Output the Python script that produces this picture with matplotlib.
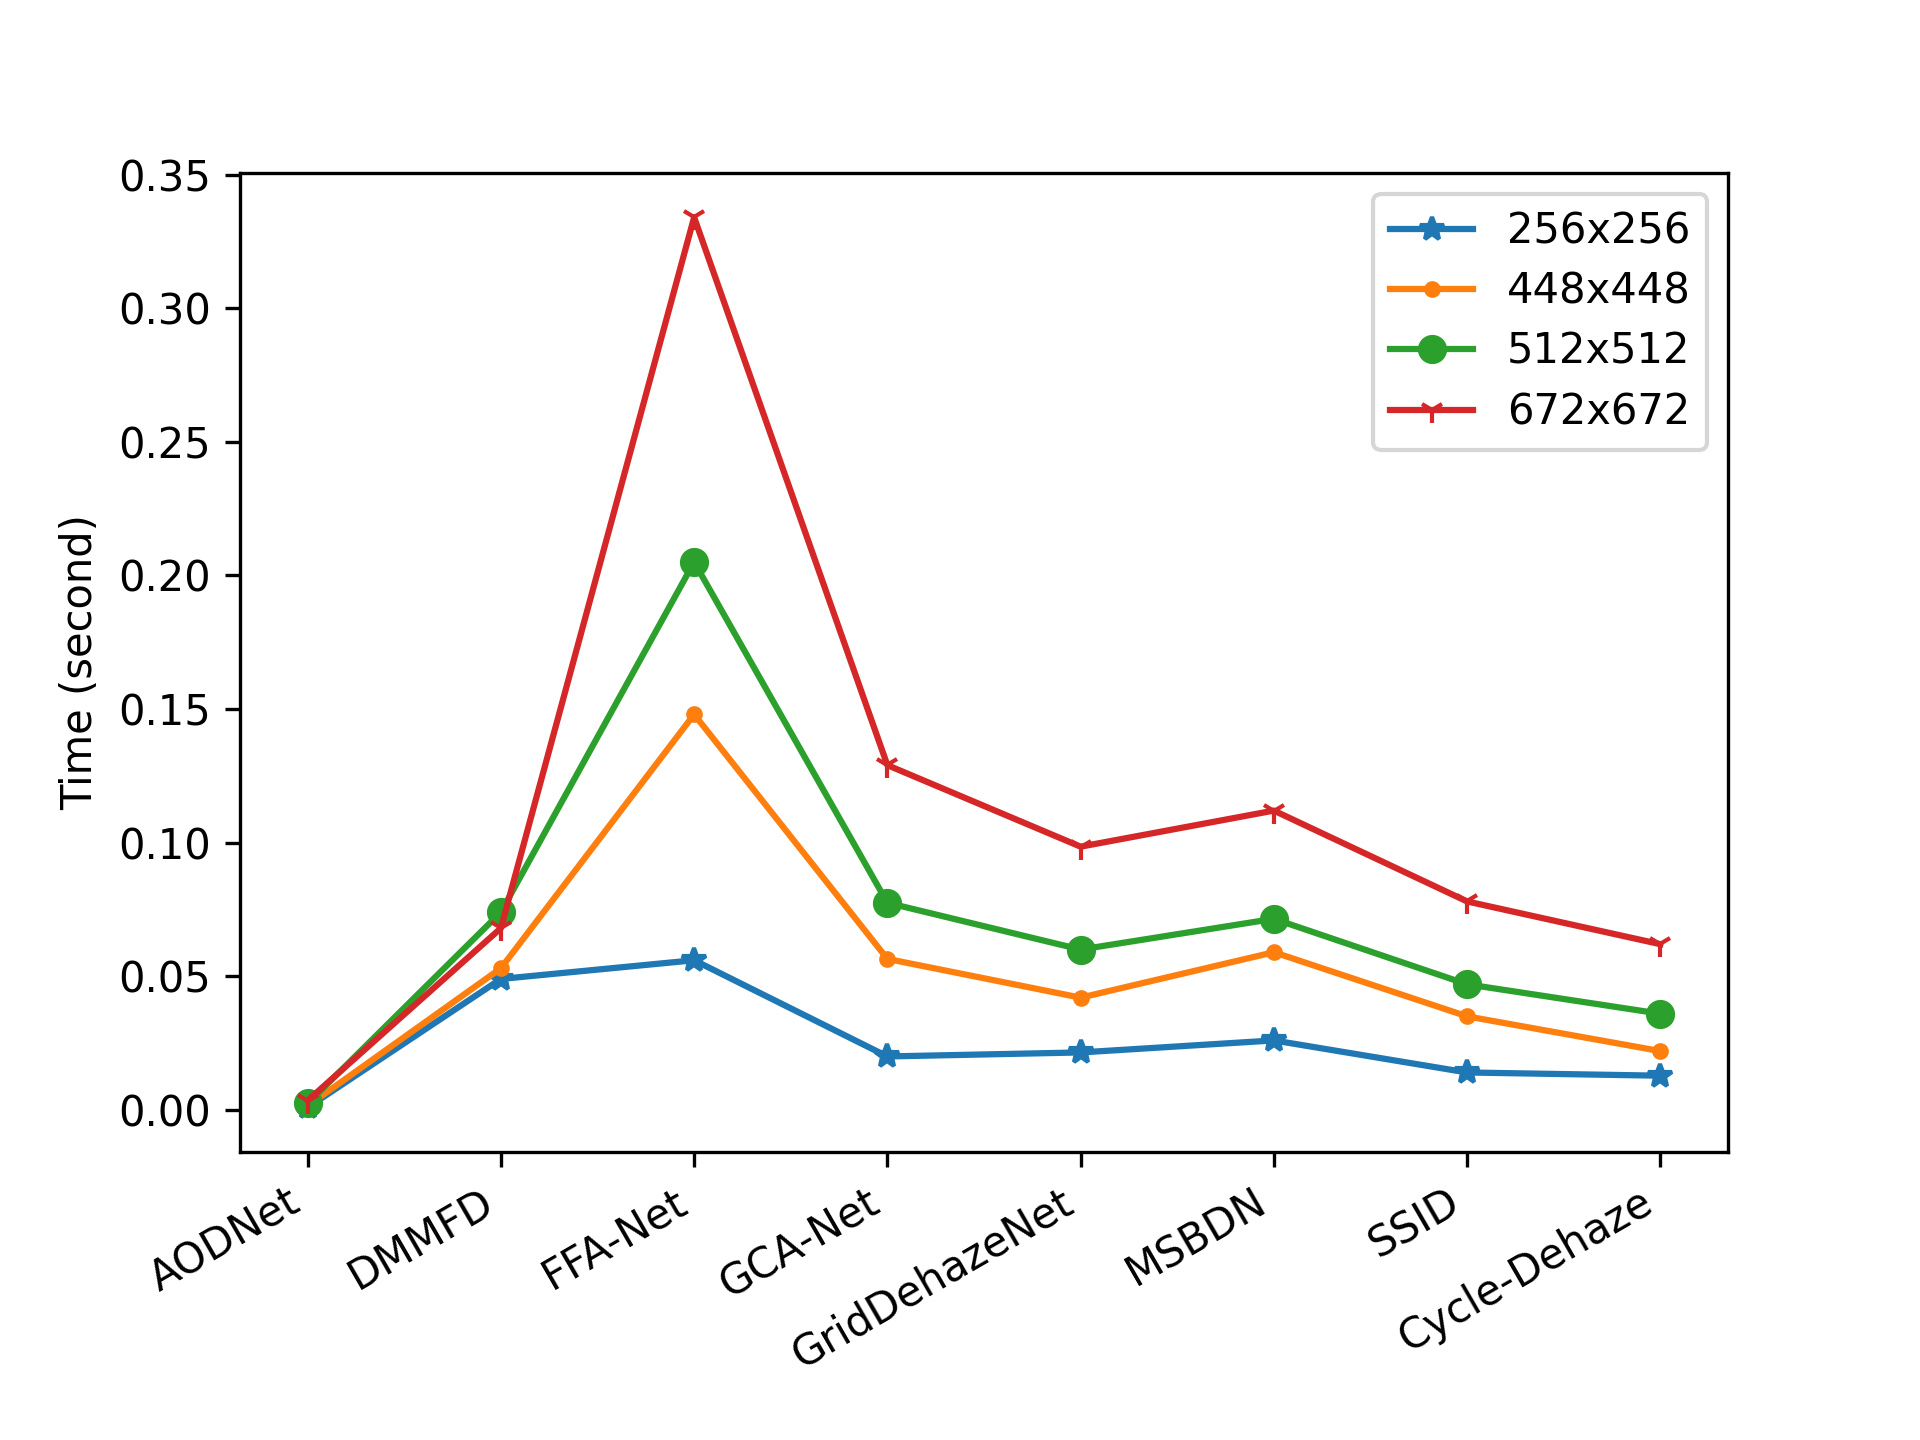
import matplotlib
matplotlib.use('Agg')
import matplotlib.pyplot as plt
import numpy as np

methods = ['AODNet', 'DMMFD', 'FFA-Net', 'GCA-Net', 'GridDehazeNet', 'MSBDN', 'SSID', 'Cycle-Dehaze']
t256 = [0.0009, 0.049, 0.056, 0.020, 0.0215, 0.026, 0.014, 0.0128]
t448 = [0.0015, 0.053, 0.148, 0.0565, 0.042, 0.059, 0.035, 0.022]
t512 = [0.0024, 0.074, 0.205, 0.0775, 0.060, 0.0715, 0.047, 0.036]
t672 = [0.0035, 0.068, 0.334, 0.129, 0.0985, 0.112, 0.078, 0.062]

fig = plt.figure(figsize=(6.4, 4.8), dpi=300)
x = np.arange(len(methods))
plt.plot(x, t256, marker='*', label='256x256')
plt.plot(x, t448, marker='.', label='448x448')
plt.plot(x, t512, marker='o', label='512x512')
plt.plot(x, t672, marker='1', label='672x672')
plt.xticks(x, methods)
plt.ylabel('Time (second)')
plt.legend(labelspacing=0.44)
fig.autofmt_xdate()
plt.savefig('out.png')
